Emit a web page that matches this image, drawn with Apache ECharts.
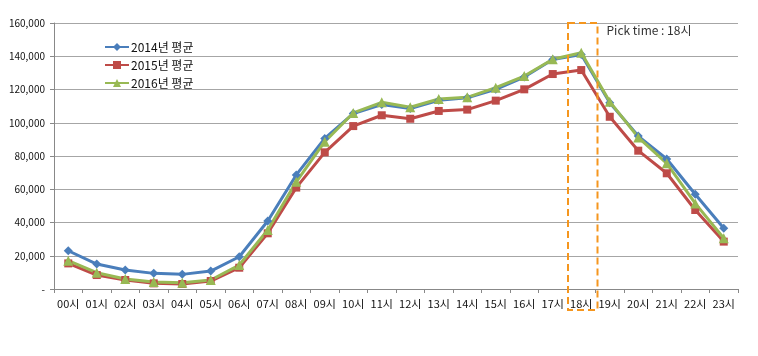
<!DOCTYPE html>
<html><head><meta charset="utf-8">
<script src="https://cdn.jsdelivr.net/npm/echarts@6/dist/echarts.min.js"></script>
<style>html,body{margin:0;padding:0;background:#fff}#c{width:758px;height:356px}</style>
</head><body><div id="c"></div>
<script>
const categories = ['00시','01시','02시','03시','04시','05시','06시','07시','08시','09시','10시','11시','12시','13시','14시','15시','16시','17시','18시','19시','20시','21시','22시','23시'];
const s2014 = [23000,15000,11400,9400,8800,10800,19400,40900,68600,90600,105500,111000,108500,113500,115000,120100,127500,138000,141100,112000,92000,78200,57000,36500];
const s2015 = [15400,8400,5400,3400,3000,4800,12800,33500,61000,82200,98000,104500,102400,107100,107900,113300,120100,129300,131700,103600,83200,69600,47500,28500];
const s2016 = [17000,9800,6000,4200,3800,5400,14400,35500,64500,88600,105900,112300,109300,114300,115300,121100,128100,138200,142100,112700,91200,75600,51500,30500];
const seriesNames = ['2014년 평균','2015년 평균','2016년 평균'];
const pickCategory = '18시';
const pickLabel = 'Pick time : 18시';

const FONT = '"Noto Sans CJK KR", "Noto Sans", sans-serif';
const colors = ['#4a7ebb','#be4b48','#98b954'];
const symbols = ['diamond','rect','triangle'];
const sizes = [9,8,10];
const datas = [s2014,s2015,s2016];

const chart = echarts.init(document.getElementById('c'));
chart.setOption({
  animation:false,
  color:colors,
  grid:{left:54,right:20,top:23,bottom:67,containLabel:false},
  legend:{
    orient:'vertical',left:99,top:36,itemGap:6,itemWidth:24,itemHeight:10,
    textStyle:{fontFamily:FONT,fontSize:12,color:'#111',padding:[0,0,0,-3]},
    data:seriesNames
  },
  xAxis:{
    type:'category',data:categories,boundaryGap:true,
    axisLine:{lineStyle:{color:'#888',width:1}},
    axisTick:{show:true,length:4,lineStyle:{color:'#888'}},
    axisLabel:{fontFamily:FONT,fontSize:11,color:'#111',margin:9,interval:0}
  },
  yAxis:{
    type:'value',min:0,max:160000,interval:20000,
    axisLine:{show:true,lineStyle:{color:'#888'}},
    axisTick:{show:true,length:4,lineStyle:{color:'#888'}},
    splitLine:{lineStyle:{color:'#a6a6a6',width:1}},
    axisLabel:{fontFamily:FONT,fontSize:10,color:'#111',margin:9,
      formatter:v=>v===0?'-':v.toLocaleString('en-US')}
  },
  series:datas.map((d,i)=>({
    name:seriesNames[i],type:'line',data:d,
    symbol:symbols[i],symbolSize:sizes[i],showAllSymbol:true,
    lineStyle:{width:3,color:colors[i]},
    itemStyle:{color:colors[i]}
  }))
});

const idx = categories.indexOf(pickCategory);
const cx = chart.convertToPixel({xAxisIndex:0},idx);
const cx2 = chart.convertToPixel({xAxisIndex:0},idx+1);
const bw = cx2-cx;
const yTop = chart.convertToPixel({yAxisIndex:0},160000);
const yBot = chart.convertToPixel({yAxisIndex:0},0);
chart.setOption({
  graphic:[
    {type:'rect',shape:{x:cx-bw/2+1,y:yTop,width:bw+1,height:(yBot-yTop)+21},
      style:{fill:null,stroke:'#f5961e',lineWidth:2,lineDash:[7,4]},z:10},
    {type:'text',x:cx+bw/2+11,y:yTop+1,
      style:{text:pickLabel,fontFamily:FONT,fontSize:12,fill:'#333'},z:10}
  ]
});
</script></body></html>
